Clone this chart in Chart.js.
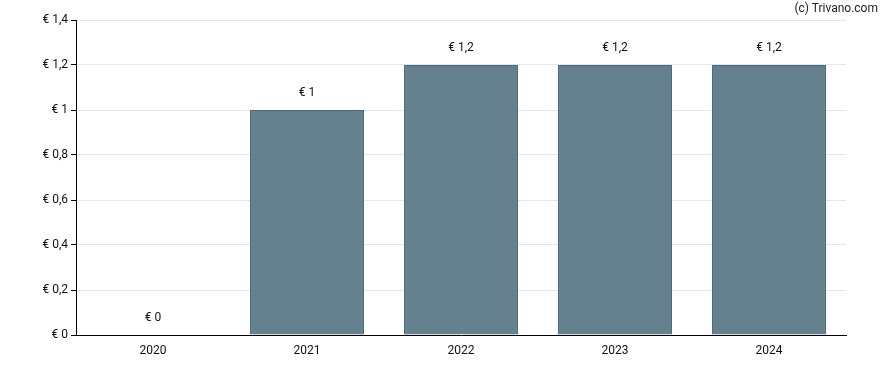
<!DOCTYPE html>
<html>
<head>
<meta charset="utf-8">
<script src="https://cdn.jsdelivr.net/npm/chart.js@4"></script>
<style>
  body{margin:0;background:#fff;}
  #wrap{position:relative;width:888px;height:370px;}
  #credit{position:absolute;right:10px;top:1px;font:12px Roboto, sans-serif;color:#222;}
</style>
</head>
<body>
<div id="wrap">
  <canvas id="chart" width="888" height="370"></canvas>
  <div id="credit">(c) Trivano.com</div>
</div>
<script>
let years=["2020","2021","2022","2023","2024"];
let dividend=[0,1,1.2,1.2,1.2];
let yTicks=[0,0.2,0.4,0.6,0.8,1,1.2,1.4];

function euro(v){
  return "€ " + String(Math.round(v*10)/10).replace(".",",");
}

// labels above bars
let valueLabels={
  id:"valueLabels",
  afterDatasetsDraw(chart){
    let ctx=chart.ctx;
    let meta=chart.getDatasetMeta(0);
    ctx.save();
    ctx.font="12px Roboto, sans-serif";
    ctx.fillStyle="#111";
    ctx.textAlign="center";
    ctx.textBaseline="middle";
    meta.data.forEach((bar,i)=>{
      ctx.fillText(euro(dividend[i]),bar.x,bar.y-17);
    });
    ctx.restore();
  }
};

let ctx=document.getElementById("chart").getContext("2d");
new Chart(ctx,{
  type:"bar",
  data:{
    labels:years,
    datasets:[{
      data:dividend,
      backgroundColor:"#65818f",
      borderColor:"#4b6678",
      borderWidth:1,
      barPercentage:0.74,
      categoryPercentage:1
    }]
  },
  options:{
    responsive:false,
    animation:false,
    layout:{padding:{top:20,right:42,left:0,bottom:0}},
    plugins:{legend:{display:false},tooltip:{enabled:false}},
    scales:{
      x:{
        grid:{display:false,drawOnChartArea:false,tickLength:5,color:"#000"},
        border:{color:"#000",width:1},
        ticks:{color:"#111",font:{family:"Roboto",size:12},padding:4},
        afterFit(s){s.height=35;}
      },
      y:{
        min:0,max:1.4,
        afterBuildTicks(s){s.ticks=yTicks.map(v=>({value:v}));},
        grid:{color:"#e6e6e6",tickColor:"#000",tickLength:5},
        border:{color:"#000",width:1},
        ticks:{color:"#111",font:{family:"Roboto",size:12},padding:3,callback:v=>euro(v)},
        afterFit(s){s.width=76;}
      }
    }
  },
  plugins:[valueLabels]
});
</script>
</body>
</html>
